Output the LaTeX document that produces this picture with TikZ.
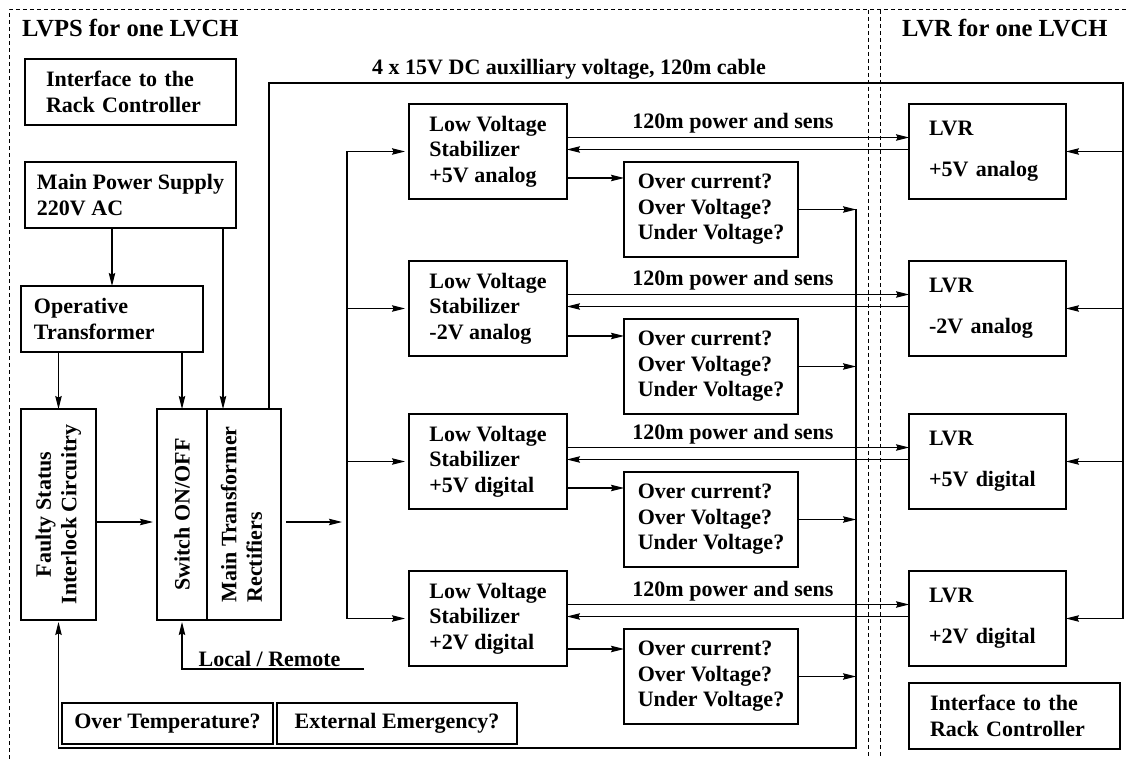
\documentclass[tikz,border=0pt]{standalone}
\usepackage{fontspec}
\setmainfont{Liberation Serif}
\usepackage{graphicx}
\usetikzlibrary{arrows.meta}
\usetikzlibrary{positioning}
\tikzstyle{box_style}=[draw, line width=1.4pt, inner sep=0pt, outer sep=0pt]
\tikzstyle{diagram0}=[box_style, align=left]
\tikzstyle{stabilizer}=[diagram0, minimum width=158pt, minimum height=95pt]
\tikzstyle{checks}=[diagram0, minimum width=174pt, minimum height=95pt]
\tikzstyle{receiver}=[diagram0, inner xsep=20pt, text width=117pt, minimum height=95pt]
\tikzstyle{iface}=[diagram0, inner xsep=21pt, text width=169pt, minimum height=66pt]
\tikzstyle{upright}=[box_style, minimum height=211pt]
\tikzstyle{myarrow}=[-{Stealth[length=13pt,width=6.5pt,inset=1.5pt]}, line width=1.1pt]
\tikzstyle{wire}=[line width=1.1pt]
\tikzstyle{frame_line}=[dash pattern=on 4pt off 3pt, line width=1pt]
\tikzstyle{head_text}=[inner sep=0pt, anchor=base west, font=\fontsize{24.6}{28}\selectfont\bfseries]
\tikzstyle{cable_text}=[inner sep=0pt, anchor=base]

\begin{document}
\begin{tikzpicture}[x=1pt, y=-1pt, font=\fontsize{22}{25.5}\selectfont\bfseries]
		\useasboundingbox (0,0) rectangle (1128,759);

		% the two cabinets
		\draw[frame_line] (9,759) -- (9,10) -- (1130,10);
		\draw[frame_line] (868,10) -- (868,759);
		\draw[frame_line] (880,10) -- (880,759);
		\node[head_text] (T1) at (22,37) {LVPS for one LVCH};
		\node[head_text] (T2) at (902,37) {LVR for one LVCH};

		\node[iface] (A) at (130.5,92) {Interface to the\\Rack Controller};

		\node[diagram0, minimum width=211pt, minimum height=66pt] (B) at (130.5,195) {Main Power Supply\\220V AC};

		\node[diagram0, inner xsep=13pt, text width=156pt, minimum height=66pt] (C) at (112,319) {Operative\\Transformer};
		\draw[myarrow] (C.north |- B.south) -- (C.north);

		\node[upright, minimum width=75pt] (D) at (58.5,514.5) {\rotatebox{90}{\begin{tabular}{@{}c@{}}Faulty Status\\Interlock Circuitry\end{tabular}}};
		\draw[myarrow] (D.north |- C.south) -- (D.north);

		\node[upright, minimum width=50pt] (E) at (182,514.5) {\rotatebox{90}{Switch ON/OFF}};
		\draw[myarrow] (E.north |- C.south) -- (E.north);
		\draw[myarrow, shorten >=4pt] ([yshift=-7.5pt]D.east) -- ([yshift=-7.5pt]D.east -| E.west);

		\node[upright, minimum width=74pt, right=0pt of E] (F) {\rotatebox{90}{\begin{tabular}{@{}l@{}}Main Transformer\\Rectifiers\end{tabular}}};
		\coordinate (f1) at ([xshift=16pt]F.north west);
		\draw[myarrow] (f1 |- B.south) -- (f1);

		\coordinate (lr) at (364,669);
		\draw[myarrow, shorten >=2pt] (lr) -- (lr -| E.south) -- (E.south);
		\node[cable_text] (K) at (269.5,666) {Local / Remote};

		\node[diagram0, minimum width=211pt, minimum height=41pt] (G) at (167.5,723.5) {Over Temperature?};
		\node[diagram0, minimum width=240pt, minimum height=41pt, right=4pt of G] (H) {External Emergency?};

		% stabilizers and their supply bus
		\coordinate (bus) at (347,0);
		\draw[myarrow, shorten <=5pt, shorten >=5pt] ([yshift=-7.5pt]F.east) -- ([yshift=-7.5pt]F.east -| bus);

		\node[stabilizer] (S1) at (488,151.5) {Low Voltage\\Stabilizer\\+5V analog};
		\node[stabilizer] (S2) at (488,308.5) {Low Voltage\\Stabilizer\\-2V analog};
		\node[stabilizer] (S3) at (488,461.5) {Low Voltage\\Stabilizer\\+5V digital};
		\node[stabilizer] (S4) at (488,618.5) {Low Voltage\\Stabilizer\\+2V digital};
		\draw[wire] (S1.west -| bus) -- (S4.west -| bus);
		\draw[myarrow, shorten >=4pt] (S1.west -| bus) -- (S1.west);
		\draw[myarrow, shorten >=4pt] (S2.west -| bus) -- (S2.west);
		\draw[myarrow, shorten >=4pt] (S3.west -| bus) -- (S3.west);
		\draw[myarrow, shorten >=4pt] (S4.west -| bus) -- (S4.west);

		\node[checks] (O1) at (711,209.5) {Over current?\\Over Voltage?\\Under Voltage?};
		\draw[myarrow] ([yshift=-16pt]O1.north west -| S1.east) -- ([yshift=-16pt]O1.north west);
		\node[checks] (O2) at (711,366.5) {Over current?\\Over Voltage?\\Under Voltage?};
		\draw[myarrow] ([yshift=-17pt]O2.north west -| S2.east) -- ([yshift=-17pt]O2.north west);
		\node[checks] (O3) at (711,519.5) {Over current?\\Over Voltage?\\Under Voltage?};
		\draw[myarrow] ([yshift=-16pt]O3.north west -| S3.east) -- ([yshift=-16pt]O3.north west);
		\node[checks] (O4) at (711,676.5) {Over current?\\Over Voltage?\\Under Voltage?};
		\draw[myarrow] ([yshift=-20pt]O4.north west -| S4.east) -- ([yshift=-20pt]O4.north west);

		% faults back to the interlock
		\coordinate (bus2) at (856,748);
		\draw[myarrow] (O1.east) -- (O1.east -| bus2);
		\draw[myarrow] (O2.east) -- (O2.east -| bus2);
		\draw[myarrow] (O3.east) -- (O3.east -| bus2);
		\draw[myarrow] (O4.east) -- (O4.east -| bus2);
		\draw[myarrow, shorten >=2pt] (O1.east -| bus2) -- (bus2) -- (bus2 -| D.south) -- (D.south);

		% regulators at the far end of the cable
		\node[receiver] (R1) at (987.5,151.5) {LVR\\[15.5pt]+5V analog};
		\draw[myarrow] ([yshift=14pt]S1.east) -- ([yshift=14pt]S1.east -| R1.west);
		\draw[myarrow] ([yshift=2pt]S1.east -| R1.west) -- ([yshift=2pt]S1.east);
		\node[cable_text] (P1) at (733,129) {120m power and sens};

		\node[receiver] (R2) at (987.5,308.5) {LVR\\[15.5pt]-2V analog};
		\draw[myarrow] ([yshift=14pt]S2.east) -- ([yshift=14pt]S2.east -| R2.west);
		\draw[myarrow] ([yshift=2pt]S2.east -| R2.west) -- ([yshift=2pt]S2.east);
		\node[cable_text] (P2) at (733,286) {120m power and sens};

		\node[receiver] (R3) at (987.5,461.5) {LVR\\[15.5pt]+5V digital};
		\draw[myarrow] ([yshift=14pt]S3.east) -- ([yshift=14pt]S3.east -| R3.west);
		\draw[myarrow] ([yshift=2pt]S3.east -| R3.west) -- ([yshift=2pt]S3.east);
		\node[cable_text] (P3) at (733,439) {120m power and sens};

		\node[receiver] (R4) at (987.5,618.5) {LVR\\[15.5pt]+2V digital};
		\draw[myarrow] ([yshift=14pt]S4.east) -- ([yshift=14pt]S4.east -| R4.west);
		\draw[myarrow] ([yshift=2pt]S4.east -| R4.west) -- ([yshift=2pt]S4.east);
		\node[cable_text] (P4) at (733,596) {120m power and sens};

		% auxilliary voltage cable
		\coordinate (f3) at ([xshift=62pt]F.north west);
		\coordinate (aux) at (1123,83);
		\draw[myarrow] (f3) -- (f3 |- aux) -- (aux) -- (aux |- R4.east) -- (R4.east);
		\draw[myarrow] (aux |- R1.east) -- (R1.east);
		\draw[myarrow] (aux |- R2.east) -- (R2.east);
		\draw[myarrow] (aux |- R3.east) -- (R3.east);
		\node[cable_text] (L) at (569,75) {4 x 15V DC auxilliary voltage, 120m cable};

		\node[iface] (I) at (1014.5,716) {Interface to the\\Rack Controller};

	\end{tikzpicture}
\end{document}
